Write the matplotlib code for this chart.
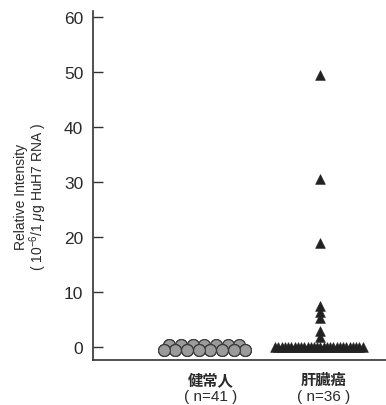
import numpy as np
import matplotlib
matplotlib.use("Agg")
import matplotlib.pyplot as plt

plt.rcParams["mathtext.fontset"] = "custom"
plt.rcParams["mathtext.rm"] = "Liberation Sans"
plt.rcParams["mathtext.it"] = "Liberation Sans:italic"

# ---- data ----
categories = ["健常人", "肝臓癌"]
n_labels = ["( n=41 )", "( n=36 )"]
healthy_values = [0, 0, 0, 0, 0, 0, 0, 0, 0, 0, 0, 0, 0, 0, 0, 0, 0, 0, 0, 0, 0,
                  0, 0, 0, 0, 0, 0, 0, 0, 0, 0, 0, 0, 0, 0, 0, 0, 0, 0, 0, 0]
cancer_low_values = [0, 0, 0, 0, 0, 0, 0, 0, 0, 0, 0, 0, 0, 0,
                     0, 0, 0, 0, 0, 0, 0, 0, 0, 0, 0, 0, 0, 0]
cancer_high_values = [49.5, 30.5, 19.0, 7.5, 6.3, 5.2, 2.9, 1.8]
yticks = [0, 10, 20, 30, 40, 50, 60]

num_font = "Liberation Sans"
jp_font = ["Noto Sans CJK JP", "DejaVu Sans"]
ink = "#2a2a2a"

fig = plt.figure(figsize=(3.86, 4.06), dpi=100)
ax = fig.add_axes([93/386, 45/406, 1 - 93/386, (361-12)/406])

# healthy: circles in two staggered rows (display jitter only)
nh = len(healthy_values)
lower_slots = np.linspace(-0.36, 0.35, 8)
upper_slots = (lower_slots[:-1] + lower_slots[1:]) / 2
slots = [(x, -0.55) for x in lower_slots] + [(x, 0.35) for x in upper_slots]
xh = np.array([1 + slots[i % len(slots)][0] for i in range(nh)])
yh = np.array([healthy_values[i] + slots[i % len(slots)][1] for i in range(nh)])
order = np.argsort(-yh)
ax.scatter(xh[order], yh[order], s=72, marker="o",
           facecolor="#9b9b9b", edgecolor="#3a3a3a", linewidths=0.8, zorder=3)

# cancer: triangles
nl = len(cancer_low_values)
xl = 2 + np.linspace(-0.39, 0.37, nl)
ax.scatter(xl, cancer_low_values, s=50, marker="^", color="#222222",
           edgecolor="#222222", linewidths=0.4, zorder=3)
ax.scatter([2] * len(cancer_high_values), cancer_high_values, s=50, marker="^",
           color="#222222", edgecolor="#222222", linewidths=0.4, zorder=3)

ax.set_xlim(1 - 112/115, 2 + 66/115)
ax.set_ylim(-13/5.5, 60 + 6/5.5)
ax.set_yticks(yticks)
ax.tick_params(axis="y", direction="in", length=7, width=1, color="#333333",
               labelsize=12.5, pad=7, labelcolor=ink)
for lab in ax.get_yticklabels():
    lab.set_fontfamily(num_font)
ax.set_xticks([])
for s in ["top", "right"]:
    ax.spines[s].set_visible(False)
for s in ["left", "bottom"]:
    ax.spines[s].set_color("#333333")
    ax.spines[s].set_linewidth(1.2)

label_x = [1.05, 2.03]
for xpos, c, n in zip(label_x, categories, n_labels):
    ax.text(xpos, -(380 - 361) / 349, c, transform=ax.get_xaxis_transform(),
            ha="center", va="center", fontsize=11, family=jp_font,
            weight="bold", color=ink)
    ax.text(xpos, -(397 - 361) / 349, n, transform=ax.get_xaxis_transform(),
            ha="center", va="center", fontsize=11, family=num_font, color=ink)

fig.text(21/386, 1 - 197/406, "Relative Intensity", rotation=90, ha="center",
         va="center", fontsize=10, family=num_font, color=ink)
fig.text(38/386, 1 - 197/406, "( 10$^{-6}$/1 $\\mu$g HuH7 RNA )", rotation=90,
         ha="center", va="center", fontsize=10, family=num_font, color=ink)

fig.savefig("out.png", dpi=100)
